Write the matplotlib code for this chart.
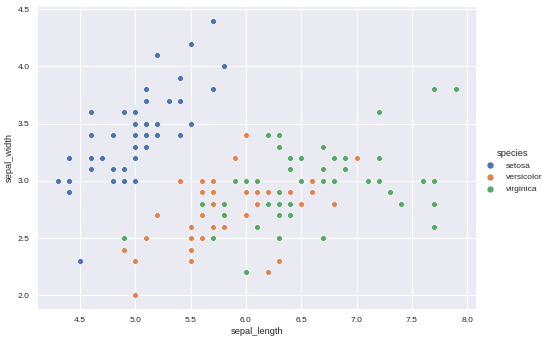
import matplotlib
matplotlib.use("Agg")
import matplotlib.pyplot as plt
import seaborn as sns

species = ["setosa", "versicolor", "virginica"]
colors = ["#4c72b0", "#dd8452", "#55a868"]

setosa_length = [5.1,4.9,4.7,4.6,5.0,5.4,4.6,5.0,4.4,4.9,5.4,4.8,4.8,4.3,5.8,5.7,5.4,5.1,5.7,5.1,
                 5.4,5.1,4.6,5.1,4.8,5.0,5.0,5.2,5.2,4.7,4.8,5.4,5.2,5.5,4.9,5.0,5.5,4.9,4.4,5.1,
                 5.0,4.5,4.4,5.0,5.1,4.8,5.1,4.6,5.3,5.0]
setosa_width = [3.5,3.0,3.2,3.1,3.6,3.9,3.4,3.4,2.9,3.1,3.7,3.4,3.0,3.0,4.0,4.4,3.9,3.5,3.8,3.8,
                3.4,3.7,3.6,3.3,3.4,3.0,3.4,3.5,3.4,3.2,3.1,3.4,4.1,4.2,3.1,3.2,3.5,3.6,3.0,3.4,
                3.5,2.3,3.2,3.5,3.8,3.0,3.8,3.2,3.7,3.3]
versicolor_length = [7.0,6.4,6.9,5.5,6.5,5.7,6.3,4.9,6.6,5.2,5.0,5.9,6.0,6.1,5.6,6.7,5.6,5.8,6.2,5.6,
                     5.9,6.1,6.3,6.1,6.4,6.6,6.8,6.7,6.0,5.7,5.5,5.5,5.8,6.0,5.4,6.0,6.7,6.3,5.6,5.5,
                     5.5,6.1,5.8,5.0,5.6,5.7,5.7,6.2,5.1,5.7]
versicolor_width = [3.2,3.2,3.1,2.3,2.8,2.8,3.3,2.4,2.9,2.7,2.0,3.0,2.2,2.9,2.9,3.1,3.0,2.7,2.2,2.5,
                    3.2,2.8,2.5,2.8,2.9,3.0,2.8,3.0,2.9,2.6,2.4,2.4,2.7,2.7,3.0,3.4,3.1,2.3,3.0,2.5,
                    2.6,3.0,2.6,2.3,2.7,3.0,2.9,2.9,2.5,2.8]
virginica_length = [6.3,5.8,7.1,6.3,6.5,7.6,4.9,7.3,6.7,7.2,6.5,6.4,6.8,5.7,5.8,6.4,6.5,7.7,7.7,6.0,
                    6.9,5.6,7.7,6.3,6.7,7.2,6.2,6.1,6.4,7.2,7.4,7.9,6.4,6.3,6.1,7.7,6.3,6.4,6.0,6.9,
                    6.7,6.9,5.8,6.8,6.7,6.7,6.3,6.5,6.2,5.9]
virginica_width = [3.3,2.7,3.0,2.9,3.0,3.0,2.5,2.9,2.5,3.6,3.2,2.7,3.0,2.5,2.8,3.2,3.0,3.8,2.6,2.2,
                   3.2,2.8,2.8,2.7,3.3,3.2,2.8,3.0,2.8,3.0,2.8,3.8,2.8,2.8,2.6,3.0,3.4,3.1,3.0,3.1,
                   3.1,3.1,2.7,3.2,3.3,3.0,2.5,3.0,3.4,3.0]

xs = [setosa_length, versicolor_length, virginica_length]
ys = [setosa_width, versicolor_width, virginica_width]

sns.set_theme(style="darkgrid")
plt.rcParams["font.family"] = ["Liberation Sans", "DejaVu Sans"]

W, H = 554, 342
fig = plt.figure(figsize=(W / 100, H / 100), dpi=100)
ax = fig.add_axes([38 / W, (H - 309) / H, 438 / W, 302 / H])

handles = []
for name, c, x, y in zip(species, colors, xs, ys):
    h = ax.scatter(x, y, s=18, color=c, edgecolor="white", linewidth=0.5, label=name, zorder=3)
    handles.append(h)

ax.set_xticks([4.5, 5.0, 5.5, 6.0, 6.5, 7.0, 7.5, 8.0])
ax.set_yticks([2.0, 2.5, 3.0, 3.5, 4.0, 4.5])
ax.tick_params(axis="both", labelsize=6.1, colors="#262626", pad=6, length=0)
ax.grid(True, color="white", linewidth=0.8)
for s in ax.spines.values():
    s.set_visible(False)
ax.set_xlabel("sepal_length", fontsize=6.7, color="#262626", labelpad=2)
ax.set_ylabel("sepal_width", fontsize=6.7, color="#262626", labelpad=3)
ax.margins(0.05)

leg = fig.legend(handles=handles, labels=species, title="species", loc="center left",
                 bbox_to_anchor=(474 / W, 0.5), frameon=False, fontsize=6.1,
                 title_fontsize=6.7, handletextpad=0.9, labelspacing=0.45, markerscale=1.2)

fig.savefig("out.png", dpi=100)
